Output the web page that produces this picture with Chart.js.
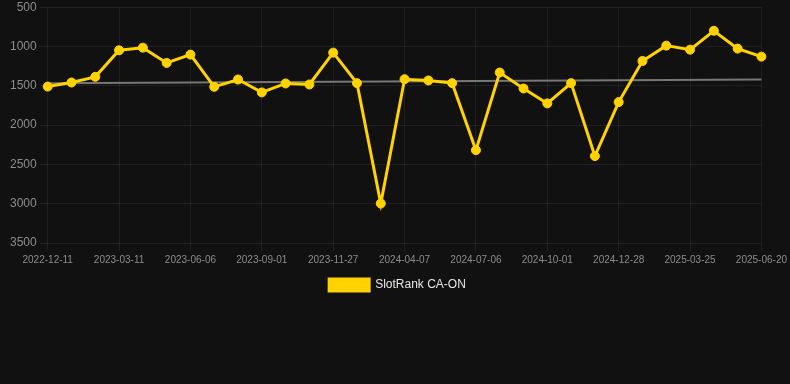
<!DOCTYPE html>
<html>
<head>
<meta charset="utf-8">
<script src="https://cdn.jsdelivr.net/npm/chart.js@4"></script>
<style>
  html, body { margin: 0; padding: 0; background: #111111; }
  #wrap { position: relative; width: 790px; height: 384px; }
</style>
</head>
<body>
<div id="wrap"><canvas id="rankChart"></canvas></div>
<script>
(function () {
  'use strict';

  // Dates of each sample (only every third one is shown on the axis)
  var dates = [
    '2022-12-11', '2023-01-10', '2023-02-09', '2023-03-11', '2023-04-09', '2023-05-08',
    '2023-06-06', '2023-07-05', '2023-08-03', '2023-09-01', '2023-09-30', '2023-10-29',
    '2023-11-27', '2024-01-10', '2024-02-23', '2024-04-07', '2024-05-07', '2024-06-06',
    '2024-07-06', '2024-08-04', '2024-09-02', '2024-10-01', '2024-10-30', '2024-11-28',
    '2024-12-28', '2025-01-26', '2025-02-24', '2025-03-25', '2025-04-23', '2025-05-22',
    '2025-06-20'
  ];

  // SlotRank CA-ON rank per sample
  var ranks = [
    1510, 1458, 1386, 1048, 1015, 1209,
    1103, 1513, 1420, 1584, 1470, 1483,
    1078, 1466, 2998, 1416, 1432, 1466,
    2319, 1331, 1534, 1724, 1466, 2394,
    1707, 1184, 989, 1040, 800, 1027,
    1129
  ];

  // Trend line: only the two ends are known, gaps are spanned
  var trend = [1468, null, null, null, null, null, null, null, null, null, null, null, null,
    null, null, null, null, null, null, null, null, null, null, null, null, null, null,
    null, null, null, 1420];

  var yTicks = { min: 500, max: 3500, step: 500 };

  var GOLD = '#FFD200';
  var TICK_COLOR = '#8c8c8c';
  var GRID_COLOR = 'rgba(255,255,255,0.06)';
  var FONT = 'Arial, "Liberation Sans", sans-serif';

  new Chart(document.getElementById('rankChart'), {
    type: 'line',
    data: {
      labels: dates,
      datasets: [
        {
          label: 'SlotRank CA-ON',
          data: ranks,
          borderColor: GOLD,
          backgroundColor: GOLD,
          borderWidth: 3,
          pointRadius: 4.5,
          pointBorderWidth: 1,
          pointBackgroundColor: GOLD,
          pointBorderColor: GOLD,
          tension: 0,
          order: 1
        },
        {
          label: '_trend',
          data: trend,
          spanGaps: true,
          borderColor: '#777777',
          borderWidth: 2,
          pointRadius: 0,
          fill: false,
          order: 2
        }
      ]
    },
    options: {
      responsive: true,
      maintainAspectRatio: false,
      animation: false,
      layout: { padding: { left: 7, right: 2, top: 0, bottom: 83 } },
      plugins: {
        legend: {
          position: 'bottom',
          labels: {
            filter: function (item) { return item.text.charAt(0) !== '_'; },
            color: '#e6e6e6',
            boxWidth: 40,
            boxHeight: 12,
            font: { family: FONT, size: 12 }
          }
        },
        tooltip: { enabled: false }
      },
      scales: {
        x: {
          grid: { color: GRID_COLOR },
          border: { display: false },
          ticks: {
            color: TICK_COLOR,
            autoSkip: true,
            maxTicksLimit: 11,
            maxRotation: 0,
            font: { family: FONT, size: 10 }
          }
        },
        y: {
          reverse: true,
          min: yTicks.min,
          max: yTicks.max,
          grid: { color: GRID_COLOR },
          border: { display: false },
          ticks: {
            stepSize: yTicks.step,
            color: TICK_COLOR,
            font: { family: FONT, size: 12, lineHeight: 0.7 },
            callback: function (v) { return String(v); }
          }
        }
      }
    }
  });
})();
</script>
</body>
</html>
